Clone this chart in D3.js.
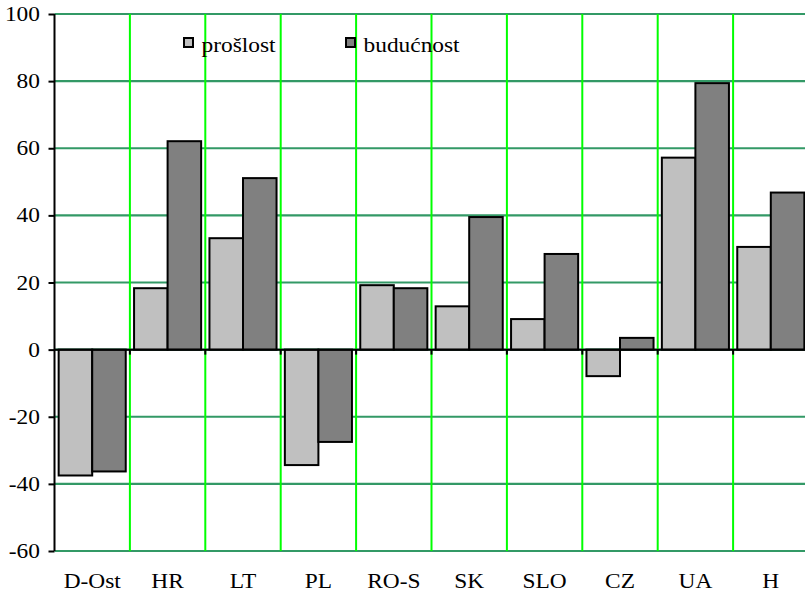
<!DOCTYPE html>
<html><head><meta charset="utf-8">
<script src="https://cdn.jsdelivr.net/npm/d3@7/dist/d3.min.js"></script>
<style>body{margin:0;background:#fff}svg{display:block}</style>
</head><body><svg id="c" width="805" height="592"></svg>
<script>
const categories = ["D-Ost","HR","LT","PL","RO-S","SK","SLO","CZ","UA","H"];
const seriesNames = ["prošlost","budućnost"];
const proslost = [-37.5,18.3,33.2,-34.4,19.2,12.9,9.1,-7.9,57.2,30.6];
const buducnost = [-36.3,62.1,51.1,-27.5,18.3,39.5,28.5,3.5,79.4,46.8];
const yTicks = [-60,-40,-20,0,20,40,60,80,100];
const yTickLabels = ["-60","-40","-20","0","20","40","60","80","100"];
const colors = ["#c0c0c0","#808080"];
const FONT = '"Liberation Serif"';
const SX = 1.17;

const svg = d3.select("#c");
const L = 54.5, R = 808.5, T = 14, B = 551;
const x = d3.scaleBand().domain(categories).range([L,R]).paddingInner(0).paddingOuter(0);
const x1 = d3.scaleBand().domain(seriesNames).range([0,x.bandwidth()]).paddingOuter(0.124).paddingInner(0);
const y = d3.scaleLinear().domain([-60,100]).range([B,T]);

function label(sel){
  return sel.style("font-family",FONT).attr("font-size",20).attr("fill","#000");
}

// horizontal grid
svg.append("g").selectAll("line").data(yTicks).join("line")
  .attr("x1",L).attr("x2",R).attr("y1",d=>y(d)).attr("y2",d=>y(d))
  .attr("stroke","#339966").attr("stroke-width",2.2);
// vertical grid
svg.append("g").selectAll("line").data(categories.slice(1)).join("line")
  .attr("x1",d=>x(d)).attr("x2",d=>x(d)).attr("y1",T).attr("y2",B)
  .attr("stroke","#00ff00").attr("stroke-width",2);

// bars
const data = categories.map((c,i)=>({c, v:[proslost[i],buducnost[i]]}));
const g = svg.append("g").selectAll("g").data(data).join("g").attr("transform",d=>`translate(${x(d.c)},0)`);
g.selectAll("rect").data(d=>d.v.map((v,j)=>({s:seriesNames[j],v,j}))).join("rect")
  .attr("x",d=>x1(d.s)).attr("width",x1.bandwidth())
  .attr("y",d=>y(Math.max(0,d.v))).attr("height",d=>Math.abs(y(d.v)-y(0)))
  .attr("fill",d=>colors[d.j]).attr("stroke","#000").attr("stroke-width",2);

// zero axis
svg.append("line").attr("x1",L).attr("x2",R).attr("y1",y(0)).attr("y2",y(0)).attr("stroke","#000").attr("stroke-width",2);
svg.append("g").selectAll("line").data(categories.slice(1)).join("line")
  .attr("x1",d=>x(d)).attr("x2",d=>x(d)).attr("y1",y(0)).attr("y2",y(0)+5)
  .attr("stroke","#000").attr("stroke-width",2);

// y axis
const ya = svg.append("g").attr("transform",`translate(${L},0)`)
  .call(d3.axisLeft(y).tickValues(yTicks).tickSize(6).tickFormat(""));
ya.select(".domain").attr("stroke","#000").attr("stroke-width",2).attr("d",`M0,${T}V${B}`);
ya.selectAll(".tick line").attr("stroke","#000").attr("stroke-width",2);
svg.append("g").selectAll("text").data(yTicks).join("text")
  .attr("transform",d=>`translate(40,${y(d)+7}) scale(${SX},1)`)
  .attr("text-anchor","end").call(label).text((d,i)=>yTickLabels[i]);

// x labels
svg.append("g").selectAll("text").data(categories).join("text")
  .attr("transform",d=>`translate(${x(d)+x.bandwidth()/2},588) scale(${SX},1)`)
  .attr("text-anchor","middle").call(label).text(d=>d);

// legend
const lg = svg.append("g").selectAll("g").data(seriesNames).join("g")
  .attr("transform",(d,i)=>`translate(${[184,346][i]},38)`);
lg.append("rect").attr("width",9).attr("height",9).attr("fill",(d,i)=>colors[i]).attr("stroke","#000").attr("stroke-width",2);
lg.append("text").attr("transform",`translate(17.5,13.5) scale(${SX},1)`).call(label).text(d=>d);
</script></body></html>
